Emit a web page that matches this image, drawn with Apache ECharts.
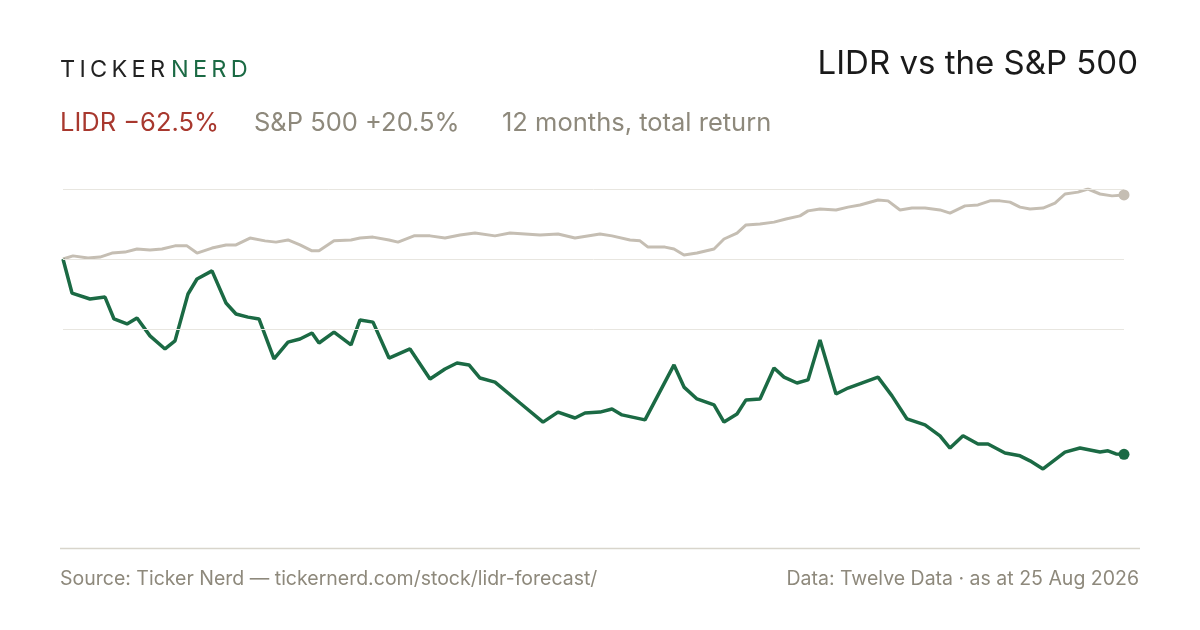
<!DOCTYPE html>
<html lang="en">
<head>
  <meta charset="UTF-8">
  <title>LIDR vs the S&amp;P 500</title>
  <style>body{margin:0;background:#fff}</style>
</head>
<body>
  <div id="main" style="width:1200px;height:630px;"></div>
  <script src="https://cdn.jsdelivr.net/npm/echarts@6/dist/echarts.min.js"></script>
  <script>
    // session position (0 = start of the 12 months) and total return in %
    const lidrX = [0,9,27,42,51,64,74,87,102,112,125,134,149,163,173,185,196,211,225,237,249,256,271,288,297,310,326,347,367,382,394,406,417,432,457,480,495,512,522,537,549,559,582,611,621,634,651,661,674,683,697,711,721,734,745,757,773,785,815,829,844,862,877,887,900,915,925,942,957,967,980,1002,1017,1037,1045,1053,1061];
    const lidrY = [0,-10.9,-12.8,-12.2,-19.2,-20.8,-18.9,-24.6,-28.8,-26.2,-11.2,-6.4,-3.8,-14.1,-17.6,-18.6,-19.2,-32.0,-26.6,-25.6,-23.7,-26.9,-23.4,-27.5,-19.5,-20.2,-31.7,-28.8,-38.4,-35.2,-33.3,-33.9,-38.1,-39.4,-46.1,-52.2,-49.0,-50.9,-49.3,-49.0,-48.0,-49.9,-51.5,-33.9,-41.0,-44.8,-46.7,-52.2,-49.6,-45.1,-44.8,-34.9,-37.8,-39.7,-38.7,-25.9,-43.2,-41.3,-37.8,-43.8,-51.2,-53.1,-56.6,-60.5,-56.6,-59.2,-59.2,-62.1,-63.0,-64.6,-67.2,-61.8,-60.5,-61.8,-61.4,-62.4,-62.5];
    const spxX = [0,10,25,37,49,62,74,87,99,112,124,134,149,163,173,187,202,213,225,237,249,256,271,288,297,310,326,335,351,367,382,397,412,432,447,462,477,495,512,537,549,567,577,585,602,611,621,634,651,661,674,683,697,711,723,737,745,757,773,785,797,815,825,837,849,862,877,887,902,915,927,937,947,957,967,980,992,1002,1015,1025,1037,1049,1061];
    const spxY = [0,1.0,0.3,0.6,1.9,2.2,3.2,2.9,3.2,4.2,4.2,1.9,3.5,4.5,4.5,6.7,5.8,5.4,6.1,4.5,2.6,2.6,5.8,6.1,6.7,7.0,6.1,5.4,7.4,7.4,6.7,7.7,8.3,7.4,8.3,8.0,7.7,8.0,6.7,8.0,7.4,6.1,5.8,3.8,3.8,3.2,1.3,1.9,3.2,6.4,8.3,10.9,11.2,11.8,12.8,13.8,15.4,16.0,15.7,16.6,17.3,18.9,18.6,15.7,16.3,16.3,15.7,14.7,17.0,17.3,18.6,18.6,18.2,16.6,16.0,16.3,17.9,20.8,21.4,22.4,20.8,20.2,20.5];
    const gridLevels = [22.4, 0, -22.4];

    const zip = (xs, ys) => xs.slice(0, Math.min(xs.length, ys.length)).map((x, i) => [x, ys[i]]);
    const lidr = zip(lidrX, lidrY);
    const spx = zip(spxX, spxY);
    const spaced = s => s.split('').join('\u2009');

    const GREEN = '#1b6a44', SAND = '#c5beb3', RED = '#a8382e', GREY = '#8e897c';
    const FONT = 'Inter, "Noto Sans", sans-serif';

    const chart = echarts.init(document.getElementById('main'));
    chart.setOption({
      animation: false,
      grid: { left: 63, right: 76, top: 189, bottom: 82 },
      xAxis: { type: 'value', min: 0, max: 1061, show: false },
      yAxis: { type: 'value', min: -92.5, max: 22.4, show: false },
      graphic: [
        { type: 'text', left: 60, top: 58, style: { text: spaced('TICKER'), font: '400 23.5px ' + FONT, fill: '#222' } },
        { type: 'text', left: 171, top: 58, style: { text: spaced('NERD'), font: '400 23.5px ' + FONT, fill: GREEN } },
        { type: 'text', right: 62, top: 48, style: { text: 'LIDR vs the S&P 500', font: '400 33px ' + FONT, fill: '#1a1a1a' } },
        { type: 'text', left: 60, top: 110, style: { text: 'LIDR \u221262.5%', font: '400 25.5px ' + FONT, fill: RED } },
        { type: 'text', left: 254, top: 110, style: { text: 'S&P 500 +20.5%', font: '400 25.5px ' + FONT, fill: GREY } },
        { type: 'text', left: 502, top: 110, style: { text: '12 months, total return', font: '400 25.5px ' + FONT, fill: GREY } },
        { type: 'line', shape: { x1: 60, y1: 548.5, x2: 1140, y2: 548.5 }, style: { stroke: '#d8d5cc', lineWidth: 1.5 } },
        { type: 'text', left: 60, top: 569, style: { text: 'Source: Ticker Nerd \u2014 tickernerd.com/stock/lidr-forecast/', font: '400 19.5px ' + FONT, fill: GREY } },
        { type: 'text', right: 61, top: 569, style: { text: 'Data: Twelve Data \u00b7 as at 25 Aug 2026', font: '400 19.5px ' + FONT, fill: GREY } }
      ],
      series: [
        {
          name: 'S&P 500', type: 'line', data: spx, symbol: 'none', z: 2,
          lineStyle: { color: SAND, width: 3 },
          markLine: {
            silent: true, symbol: 'none', label: { show: false },
            lineStyle: { color: '#e8e6e0', width: 1, type: 'solid' },
            data: gridLevels.map(v => ({ yAxis: v }))
          },
          markPoint: {
            symbol: 'circle', symbolSize: 11, label: { show: false },
            itemStyle: { color: SAND },
            data: [{ coord: spx[spx.length - 1] }]
          }
        },
        {
          name: 'LIDR', type: 'line', data: lidr, symbol: 'none', z: 3,
          lineStyle: { color: GREEN, width: 3.5 },
          markPoint: {
            symbol: 'circle', symbolSize: 11, label: { show: false },
            itemStyle: { color: GREEN },
            data: [{ coord: lidr[lidr.length - 1] }]
          }
        }
      ]
    });
  </script>
</body>
</html>
